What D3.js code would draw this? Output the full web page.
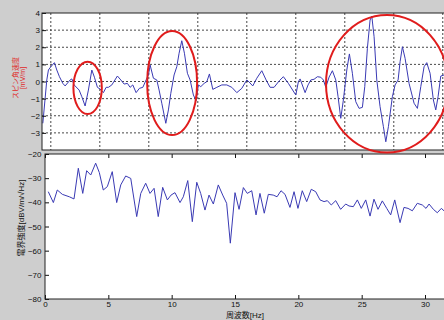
<!DOCTYPE html>
<html>
<head>
<meta charset="utf-8">
<script src="https://cdn.jsdelivr.net/npm/d3@7"></script>
<style>
  html, body { margin: 0; padding: 0; background: #cecece; overflow: hidden; }
  svg { display: block; font-family: "Liberation Sans", "Noto Sans CJK JP", sans-serif; }
</style>
</head>
<body>
<svg id="chart" width="444" height="320"></svg>
<script>
// top panel: waveform, x in grid units, y in mV/m
const waveTime = [-0.163,-0.082,-0.049,0,0.073,0.122,0.176,0.245,0.292,0.394,
  0.429,0.476,0.537,0.578,0.633,0.700,0.767,0.837,0.890,0.951,
  1.006,1.073,1.129,1.176,1.245,1.359,1.429,1.496,1.563,1.618,
  1.673,1.741,1.808,1.878,1.945,1.992,2.027,2.094,2.163,2.210,
  2.265,2.347,2.400,2.449,2.516,2.571,2.618,2.673,2.727,2.788,
  2.843,2.910,2.965,3.012,3.061,3.129,3.184,3.237,3.306,3.388,
  3.490,3.592,3.694,3.796,3.898,4.000,4.047,4.122,4.204,4.306,
  4.394,4.476,4.557,4.665,4.747,4.849,5.000,5.053,5.088,5.190,
  5.251,5.306,5.373,5.441,5.510,5.563,5.612,5.680,5.747,5.816,
  5.863,5.918,5.971,6.041,6.094,6.155,6.224,6.292,6.359,6.408,
  6.461,6.516,6.551,6.598,6.653,6.720,6.788,6.837,6.890,6.971,
  7.027,7.088,7.129,7.176,7.231,7.312,7.414,7.482,7.551,7.618,
  7.673,7.741,7.808,7.857,7.904,7.959,8.027];
const waveValue = [-2.44,0.09,0.67,0.86,1.10,0.67,0.28,-0.11,-0.26,0.09,
  0.15,-0.20,-0.38,-0.50,-0.89,-1.43,-0.50,0.67,0.25,-0.34,
  -0.44,-0.65,-0.34,-0.34,-0.20,0.32,0.09,-0.15,-0.11,-0.34,
  -0.20,-0.65,-0.40,-0.34,0.09,0.38,0.96,0.19,0.09,-0.50,
  -1.27,-2.44,-1.66,-0.69,0.38,0.86,1.65,2.38,1.65,0.48,
  0.09,-0.79,-1.12,-0.20,-0.30,-0.11,-0.01,0.44,-0.46,-0.34,
  -0.20,-0.20,-0.34,-0.65,-0.40,0.09,-0.03,-0.26,0.19,0.63,
  0.09,-0.34,-0.34,0.05,0.28,-0.11,-0.79,-0.01,0.15,-0.65,
  -0.20,0.09,0.13,0.28,0.25,0.09,-0.34,0.26,0.63,0.09,
  -0.89,-2.15,-1.08,0.67,1.61,0.48,-1.18,-1.57,-1.51,-0.30,
  1.94,3.59,3.82,2.62,0.09,-1.47,-2.64,-3.52,-2.64,-0.89,
  -0.20,0.09,1.16,2.03,1.35,-0.11,-1.27,-1.57,-0.30,0.86,
  1.10,0.48,-1.08,-1.66,-0.89,0.32,0.38];
const waveTicks = [4, 3, 2, 1, 0, -1, -2, -3];
const waveGridY = [3, 2, 1, 0, -1, -2, -3];
const waveGridX = [0, 1, 2, 3, 4, 5, 6, 7, 8];

// red rings: centre time / value, half width / half height
const markTime = [0.751, 2.476, 6.862];
const markValue = [-0.37, -0.09, -0.13];
const markHalfW = [0.29, 0.51, 1.245];
const markHalfH = [1.53, 3.04, 4.02];

// bottom panel: spectrum
const freq = [0.26,0.66,0.97,1.37,1.92,2.29,2.63,2.98,3.29,3.61,
  4.00,4.29,4.60,4.92,5.31,5.66,5.98,6.37,6.77,7.24,
  7.56,7.95,8.29,8.61,8.94,9.29,9.66,9.95,10.26,10.66,
  10.92,11.27,11.63,11.98,12.29,12.63,12.95,13.29,13.68,14.03,
  14.34,14.63,15.00,15.32,15.66,15.97,16.32,16.66,16.97,17.31,
  17.63,18.02,18.32,18.63,18.95,19.34,19.66,19.97,20.31,20.66,
  21.02,21.37,21.71,22.03,22.29,22.60,22.95,23.34,23.74,24.00,
  24.34,24.66,24.97,25.32,25.66,25.97,26.29,26.63,26.98,27.29,
  27.61,28.03,28.34,28.66,29.00,29.39,29.79,30.08,30.32,30.66,
  30.97,31.29,31.50];
const level = [-35.6,-40.1,-34.9,-36.7,-37.7,-38.6,-25.9,-36.3,-26.9,-28.7,
  -23.8,-27.7,-34.9,-33.5,-27.3,-40.1,-32.8,-29.1,-30.1,-45.9,
  -36.3,-32.1,-36.3,-34.2,-45.9,-33.8,-39.0,-37.0,-36.0,-40.1,
  -37.7,-31.0,-48.0,-31.7,-36.3,-43.2,-37.0,-40.7,-32.8,-37.0,
  -40.4,-56.9,-36.0,-42.9,-33.9,-36.3,-35.2,-45.2,-36.3,-44.5,
  -36.7,-37.0,-37.7,-35.2,-36.7,-42.1,-35.6,-42.5,-35.2,-39.7,
  -34.6,-35.6,-39.0,-39.7,-39.3,-41.1,-39.3,-42.9,-40.7,-41.5,
  -41.8,-39.0,-42.5,-39.0,-45.7,-38.7,-42.9,-39.4,-42.5,-45.2,
  -39.0,-48.4,-42.1,-42.5,-43.5,-40.4,-41.1,-42.5,-40.7,-42.9,
  -44.3,-42.5,-43.5];
const freqTicks = [0, 5, 10, 15, 20, 25, 30];
const levelTicks = [-20, -30, -40, -50, -60, -70, -80];

const lineColor = '#3a3ab4';
const ringColor = '#e01c1c';

const svg = d3.select('#chart');

// panel boxes
const boxTop = { left: 42, right: 447, top: 13, bottom: 150 };
const boxBot = { left: 45, right: 447, top: 154, bottom: 299 };

const xWave = d3.scaleLinear().domain([-0.18, 8.08]).range([42, 446.7]);
const yWave = d3.scaleLinear().domain([-4, 4]).range([boxTop.bottom, boxTop.top]);
const xFreq = d3.scaleLinear().domain([0, 31.7]).range([boxBot.left, boxBot.left + 31.7 * 12.667]);
const yLevel = d3.scaleLinear().domain([-80, -20]).range([boxBot.bottom, boxBot.top]);

const defs = svg.append('defs');
defs.append('clipPath').attr('id', 'clipTop').append('rect')
  .attr('x', boxTop.left).attr('y', boxTop.top)
  .attr('width', boxTop.right - boxTop.left).attr('height', boxTop.bottom - boxTop.top);
defs.append('clipPath').attr('id', 'clipBot').append('rect')
  .attr('x', boxBot.left).attr('y', boxBot.top)
  .attr('width', boxBot.right - boxBot.left).attr('height', boxBot.bottom - boxBot.top);

// ---- top panel ----
svg.append('rect')
  .attr('x', boxTop.left).attr('y', boxTop.top)
  .attr('width', boxTop.right - boxTop.left).attr('height', boxTop.bottom - boxTop.top)
  .attr('fill', '#fff');

const gridTop = svg.append('g').attr('clip-path', 'url(#clipTop)')
  .attr('stroke', '#333').attr('stroke-width', 0.9).attr('stroke-dasharray', '2,2');
gridTop.selectAll('line.gx').data(waveGridX).enter().append('line')
  .attr('class', 'gx')
  .attr('x1', d => xWave(d)).attr('x2', d => xWave(d))
  .attr('y1', boxTop.top).attr('y2', boxTop.bottom);
gridTop.selectAll('line.gy').data(waveGridY).enter().append('line')
  .attr('class', 'gy')
  .attr('x1', boxTop.left).attr('x2', boxTop.right)
  .attr('y1', d => yWave(d)).attr('y2', d => yWave(d));

svg.append('path')
  .datum(d3.zip(waveTime, waveValue))
  .attr('clip-path', 'url(#clipTop)')
  .attr('fill', 'none')
  .attr('stroke', lineColor)
  .attr('stroke-width', 1)
  .attr('d', d3.line().x(d => xWave(d[0])).y(d => yWave(d[1])));

const yAxisTop = svg.append('g')
  .attr('transform', `translate(${boxTop.left},0)`)
  .call(d3.axisLeft(yWave).tickValues(waveTicks).tickSizeInner(-4).tickSizeOuter(0).tickPadding(2));
yAxisTop.select('.domain').remove();
yAxisTop.selectAll('text').attr('font-size', 8).attr('font-family', null).attr('fill', '#111');
yAxisTop.selectAll('line').attr('stroke', '#111');
yAxisTop.attr('font-family', null);

svg.append('rect')
  .attr('x', boxTop.left).attr('y', boxTop.top)
  .attr('width', boxTop.right - boxTop.left).attr('height', boxTop.bottom - boxTop.top)
  .attr('fill', 'none').attr('stroke', '#222').attr('stroke-width', 1);

// ---- bottom panel ----
svg.append('rect')
  .attr('x', boxBot.left).attr('y', boxBot.top)
  .attr('width', boxBot.right - boxBot.left).attr('height', boxBot.bottom - boxBot.top)
  .attr('fill', '#fff');

svg.append('path')
  .datum(d3.zip(freq, level))
  .attr('clip-path', 'url(#clipBot)')
  .attr('fill', 'none')
  .attr('stroke', lineColor)
  .attr('stroke-width', 1)
  .attr('d', d3.line().x(d => xFreq(d[0])).y(d => yLevel(d[1])));

const yAxisBot = svg.append('g')
  .attr('transform', `translate(${boxBot.left},0)`)
  .call(d3.axisLeft(yLevel).tickValues(levelTicks).tickSizeInner(-4).tickSizeOuter(0).tickPadding(3.5));
const xAxisBot = svg.append('g')
  .attr('transform', `translate(0,${boxBot.bottom})`)
  .call(d3.axisBottom(xFreq).tickValues(freqTicks).tickSizeInner(-4).tickSizeOuter(0).tickPadding(2.3));
const xAxisBotTop = svg.append('g')
  .attr('transform', `translate(0,${boxBot.top})`)
  .call(d3.axisTop(xFreq).tickValues(freqTicks).tickSizeInner(-4).tickSizeOuter(0).tickFormat(''));
[yAxisBot, xAxisBot, xAxisBotTop].forEach(g => {
  g.select('.domain').remove();
  g.attr('font-family', null);
  g.selectAll('text').attr('font-size', 8).attr('fill', '#111');
  g.selectAll('line').attr('stroke', '#111');
});

svg.append('rect')
  .attr('x', boxBot.left).attr('y', boxBot.top)
  .attr('width', boxBot.right - boxBot.left).attr('height', boxBot.bottom - boxBot.top)
  .attr('fill', 'none').attr('stroke', '#222').attr('stroke-width', 1);

// red rings over the bursts
svg.selectAll('ellipse.ring')
  .data(d3.range(markTime.length))
  .enter().append('ellipse')
  .attr('class', 'ring')
  .attr('cx', i => xWave(markTime[i]))
  .attr('cy', i => yWave(markValue[i]))
  .attr('rx', i => xWave(markTime[i] + markHalfW[i]) - xWave(markTime[i]))
  .attr('ry', i => yWave(markValue[i]) - yWave(markValue[i] + markHalfH[i]))
  .attr('fill', 'none')
  .attr('stroke', ringColor)
  .attr('stroke-width', 2);

// axis titles
const topTitle = svg.append('text')
  .attr('transform', 'translate(15.5,78) rotate(-90)')
  .attr('text-anchor', 'middle')
  .attr('font-size', 7)
  .attr('fill', '#e02828');
topTitle.append('tspan').attr('x', 0).attr('dy', '0.35em').text('スピン角速度');
topTitle.append('tspan').attr('x', 0).attr('dy', '0.95em').text('[mV/m]');

svg.append('text')
  .attr('transform', 'translate(21.5,218) rotate(-90)')
  .attr('text-anchor', 'middle')
  .attr('dy', '0.35em')
  .attr('font-size', 8)
  .attr('fill', '#111')
  .text('電界強度[dBV/m/√Hz]');

svg.append('text')
  .attr('x', 245).attr('y', 318)
  .attr('text-anchor', 'middle')
  .attr('font-size', 8)
  .attr('fill', '#111')
  .text('周波数[Hz]');
</script>
</body>
</html>
